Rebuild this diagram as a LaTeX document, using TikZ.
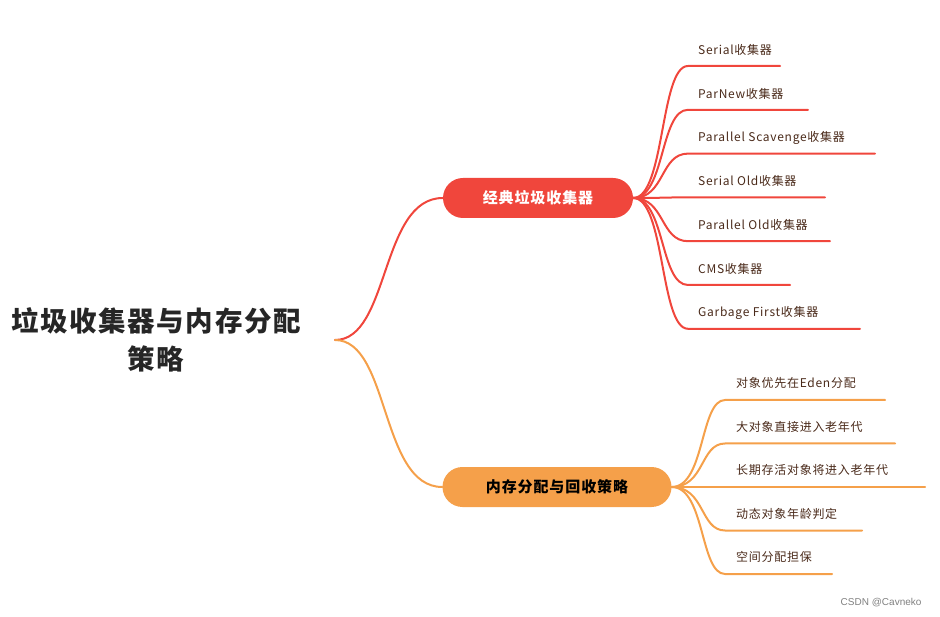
\documentclass[tikz,border=0pt]{standalone}
\usepackage{fontspec}
\newfontfamily\cjk{Noto Sans CJK SC}[LetterSpace=6]
\definecolor{redb}{HTML}{F0463C}
\definecolor{orb}{HTML}{F5A04A}
\definecolor{txt}{HTML}{4A2A1A}
\begin{document}
\begin{tikzpicture}[x=1pt,y=-1pt,
  branch/.style={rounded corners=20pt,minimum height=40pt,font=\cjk\bfseries\fontsize{15}{18}\selectfont,inner xsep=0pt},
  leaf/.style={anchor=west,font=\cjk\fontsize{12}{14}\selectfont,text=txt,inner sep=0pt},
  rline/.style={redb,line width=2pt,line cap=round},
  oline/.style={orb,line width=2pt,line cap=round}]
\useasboundingbox (0,0) rectangle (940,617);
\node[font=\cjk\bfseries\fontsize{27.5}{38}\selectfont,text=black!85,align=center] (root) at (156,340) {垃圾收集器与内存分配\\策略};
\coordinate (r0) at (335,340);
\node[branch,fill=redb,text=white,minimum width=190pt] (red) at (538,198) {经典垃圾收集器};
\node[branch,fill=orb,text=black,minimum width=229pt] (org) at (557,487) {内存分配与回收策略};
\draw[rline] (r0) .. controls (390,340) and (380,198) .. (red.west);
\draw[oline] (r0) .. controls (390,340) and (380,487) .. (org.west);
\foreach \i/\t/\e in {0/Serial收集器/780,1/ParNew收集器/808,2/Parallel Scavenge收集器/875,3/Serial Old收集器/825,4/Parallel Old收集器/830,5/CMS收集器/790,6/Garbage First收集器/860}{
  \pgfmathsetmacro{\ly}{66+43.8*\i}
  \node[leaf] (rl\i) at (698,\ly-16) {\t};
  \coordinate (rs\i) at (688,\ly);
  \coordinate (re\i) at (\e,\ly);
  \draw[rline] (red.east) .. controls (665,198) and (660,\ly) .. (rs\i) -- (re\i);
}
\foreach \i/\t/\e in {0/对象优先在Eden分配/885,1/大对象直接进入老年代/895,2/长期存活对象将进入老年代/925,3/动态对象年龄判定/862,4/空间分配担保/832}{
  \pgfmathsetmacro{\ly}{400+43.5*\i}
  \node[leaf] (ol\i) at (736,\ly-17) {\t};
  \coordinate (os\i) at (725,\ly);
  \coordinate (oe\i) at (\e,\ly);
  \draw[oline] (org.east) .. controls (705,487) and (700,\ly) .. (os\i) -- (oe\i);
}
\node[font=\fontspec{Liberation Sans}\fontsize{10}{12}\selectfont,text=gray,anchor=east] (wm) at (925,603) {CSDN @Cavneko};
\end{tikzpicture}
\end{document}
